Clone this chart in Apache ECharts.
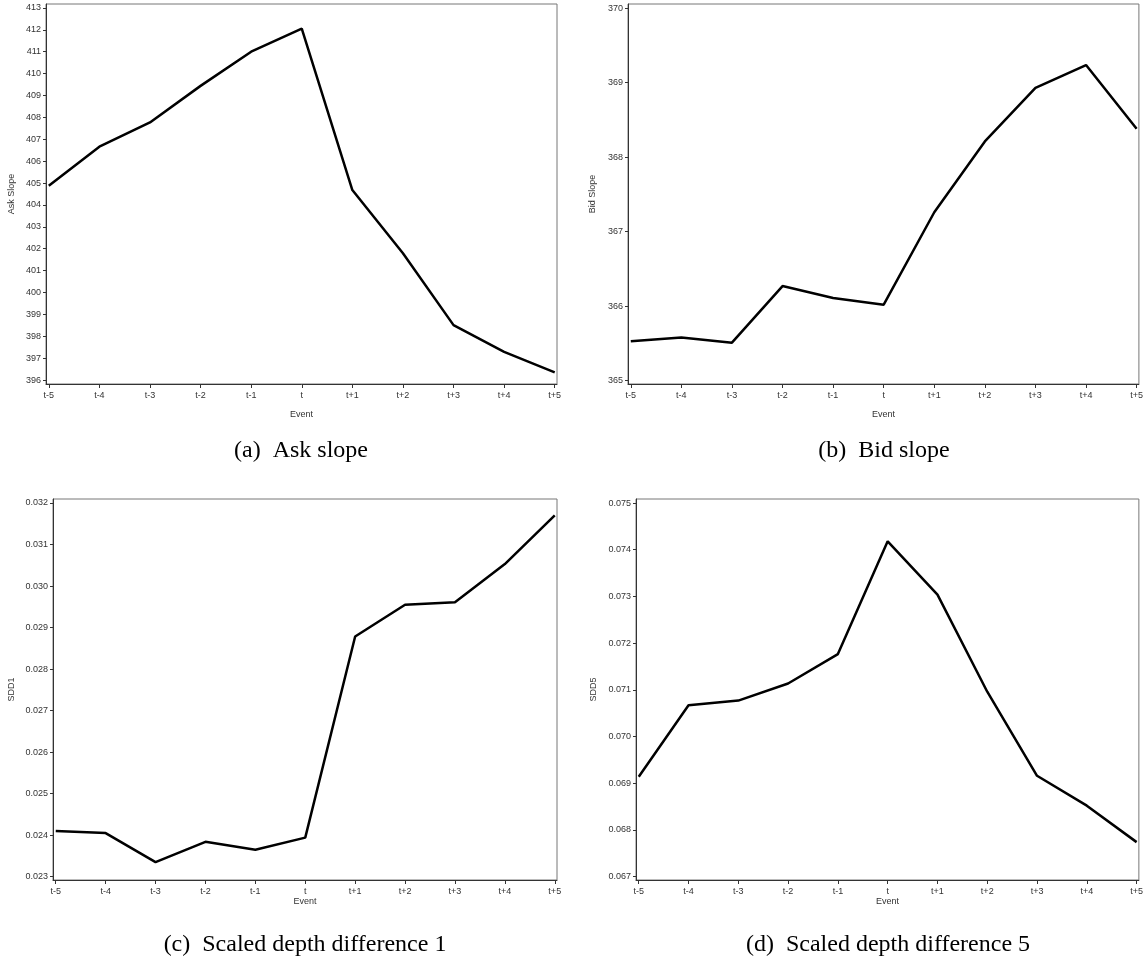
<!DOCTYPE html>
<html><head><meta charset="utf-8">
<script src="https://cdn.jsdelivr.net/npm/echarts@6/dist/echarts.min.js"></script>
<style>html,body{margin:0;padding:0;background:#fff}#c{width:1146px;height:970px}</style>
</head><body><div id="c"></div>
<script>
const events = ['t-5','t-4','t-3','t-2','t-1','t','t+1','t+2','t+3','t+4','t+5'];
const askSlope = [404.88, 406.66, 407.77, 409.44, 411.00, 412.05, 404.68, 401.79, 398.51, 397.29, 396.35];
const bidSlope = [365.53, 365.58, 365.51, 366.27, 366.11, 366.02, 367.26, 368.21, 368.93, 369.235, 368.38];
const sdd1 = [0.02410, 0.02405, 0.02335, 0.02384, 0.02365, 0.02394, 0.028785, 0.02955, 0.02961, 0.03053, 0.03170];
const sdd5 = [0.06914, 0.07067, 0.07077, 0.071135, 0.071765, 0.07418, 0.07304, 0.07096, 0.06916, 0.06852, 0.06774];
const askTicks = [396,397,398,399,400,401,402,403,404,405,406,407,408,409,410,411,412,413];
const bidTicks = [365,366,367,368,369,370];
const sdd1Ticks = [0.023,0.024,0.025,0.026,0.027,0.028,0.029,0.030,0.031,0.032];
const sdd5Ticks = [0.067,0.068,0.069,0.070,0.071,0.072,0.073,0.074,0.075];
const yNames = ['Ask Slope','Bid Slope','SDD1','SDD5'];
const captions = ['(a)  Ask slope','(b)  Bid slope','(c)  Scaled depth difference 1','(d)  Scaled depth difference 5'];

const panels = [
  {grid:{left:46, top:4, width:511, height:380}, ymin:395.82, ymax:413.18, ticks:askTicks, data:askSlope, dec:0, nameGap:30, xNameGap:26},
  {grid:{left:628, top:4, width:512, height:380}, ymin:364.956, ymax:370.054, ticks:bidTicks, data:bidSlope, dec:0, nameGap:31, xNameGap:26},
  {grid:{left:53, top:499, width:504, height:381}, ymin:0.02292, ymax:0.032096, ticks:sdd1Ticks, data:sdd1, dec:3, nameGap:37, xNameGap:17},
  {grid:{left:636, top:499, width:504, height:381}, ymin:0.066929, ymax:0.075086, ticks:sdd5Ticks, data:sdd5, dec:3, nameGap:38, xNameGap:17}
];
const capPos = [[301,451],[884,451],[305,945],[888,945]];

const labelStyle = {color:'#333', fontSize:9, fontFamily:'Liberation Sans, Arial, sans-serif'};
const nameStyle = {color:'#333', fontSize:9, fontFamily:'Liberation Sans, Arial, sans-serif'};
const xTicks = events.map((e,i)=>i);

const option = {
  backgroundColor:'#fff',
  animation:false,
  grid: panels.map(p=>Object.assign({show:true, borderColor:'#777', borderWidth:1, containLabel:false}, p.grid)),
  xAxis: panels.map((p,i)=>({
    type:'value', gridIndex:i, min:-0.055, max:10.045,
    name:'Event', nameLocation:'middle', nameGap:p.xNameGap, nameTextStyle:nameStyle,
    axisLine:{show:true, onZero:false, lineStyle:{color:'#333', width:1}},
    axisTick:{show:true, inside:false, length:4, customValues:xTicks, lineStyle:{color:'#333'}},
    axisLabel:Object.assign({show:true, margin:7, customValues:xTicks, formatter:v=>events[Math.round(v)]}, labelStyle),
    splitLine:{show:false}
  })),
  yAxis: panels.map((p,i)=>({
    type:'value', gridIndex:i, min:p.ymin, max:p.ymax,
    name:yNames[i], nameLocation:'middle', nameGap:p.nameGap, nameRotate:90, nameTextStyle:nameStyle,
    axisLine:{show:true, onZero:false, lineStyle:{color:'#333', width:1}},
    axisTick:{show:true, inside:false, length:3, customValues:p.ticks, lineStyle:{color:'#333'}},
    axisLabel:Object.assign({show:true, margin:5, customValues:p.ticks, formatter:v=>v.toFixed(p.dec)}, labelStyle),
    splitLine:{show:false}
  })),
  series: panels.map((p,i)=>({
    type:'line', xAxisIndex:i, yAxisIndex:i,
    data:p.data.map((v,j)=>[j,v]),
    showSymbol:false, symbol:'none',
    lineStyle:{color:'#000', width:2.5},
    silent:true
  })),
  graphic: captions.map((c,i)=>({
    type:'text', x:capPos[i][0], y:capPos[i][1],
    style:{text:c, fill:'#000', font:'24px "Liberation Serif", "Times New Roman", serif', textAlign:'center', textVerticalAlign:'middle'}
  }))
};
const chart = echarts.init(document.getElementById('c'), null, {renderer:'canvas'});
chart.setOption(option);
</script>
</body></html>
